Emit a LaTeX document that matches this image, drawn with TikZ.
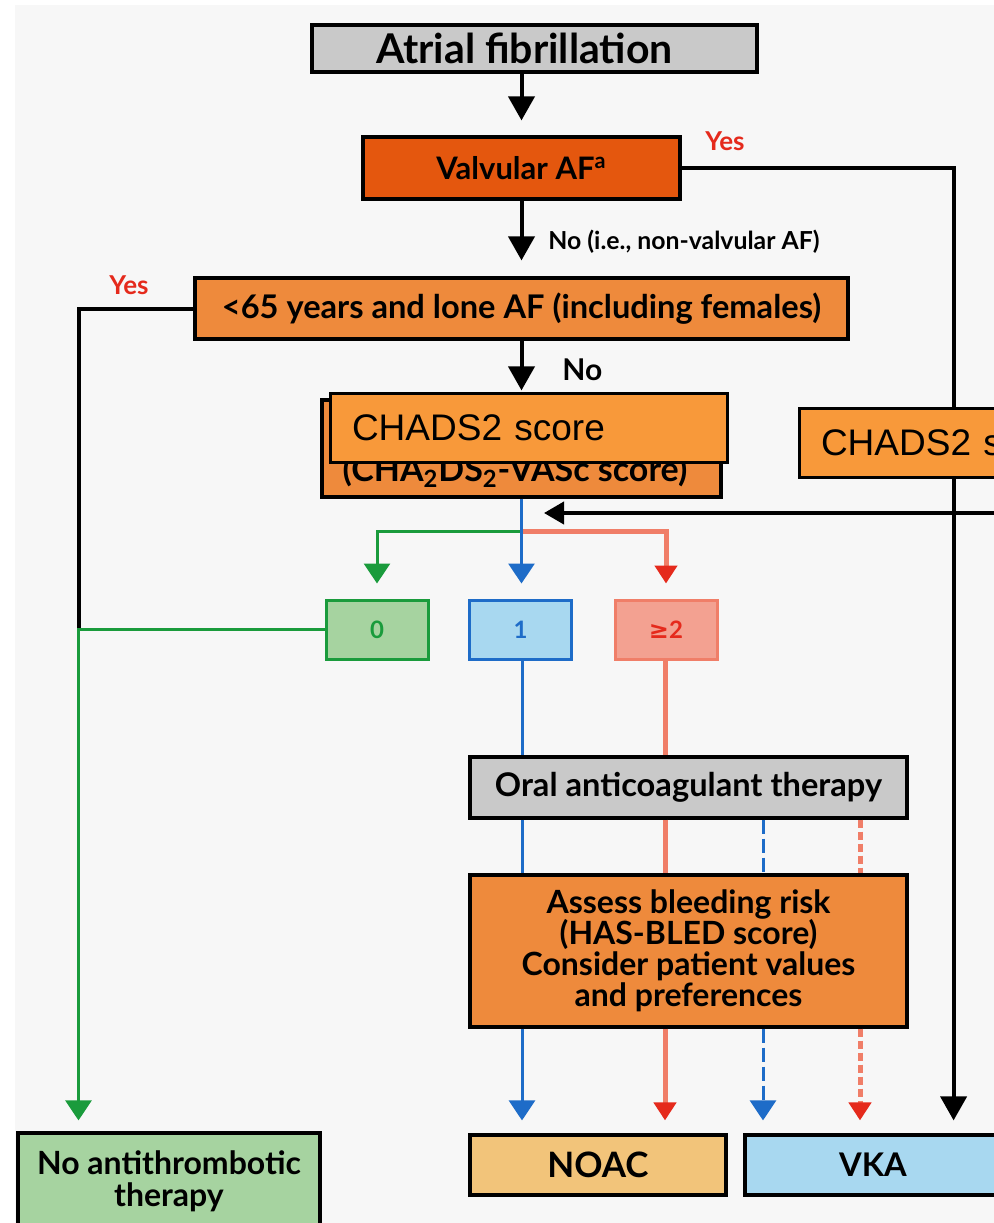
\documentclass[tikz,border=0pt]{standalone}
\usepackage{fontspec}
\setmainfont{Lato}
\newfontfamily\arialfont{Liberation Sans}
\newfontfamily\symfont{DejaVu Sans}
\usetikzlibrary{arrows.meta}

\definecolor{pagebg}{HTML}{F7F7F7}
\definecolor{grayfill}{HTML}{C9C9C9}
\definecolor{valvfill}{HTML}{E4570E}
\definecolor{orangefill}{HTML}{EE8A3C}
\definecolor{patchfill}{HTML}{F8993A}
\definecolor{greenline}{HTML}{1A9B3C}
\definecolor{greenfill}{HTML}{A6D3A0}
\definecolor{blueline}{HTML}{1E6CC8}
\definecolor{bluefill}{HTML}{A8D8F0}
\definecolor{salmonline}{HTML}{F07E68}
\definecolor{salmonfill}{HTML}{F3A191}
\definecolor{redtext}{HTML}{E52A1C}
\definecolor{noacfill}{HTML}{F2C47A}

\begin{document}
\begin{tikzpicture}[
            x=0.5pt, y=-0.5pt,
            every node/.style={inner sep=0pt},
            box/.style={
                rectangle,
                draw=black,
                line width=1.6pt,
                align=center,
                font=\fontsize{16.3}{15}\selectfont\bfseries
            },
            scorebox/.style={
                rectangle,
                line width=1.5pt,
                minimum width=51pt,
                minimum height=29.5pt,
                font=\fontsize{12}{14}\selectfont\bfseries
            },
            patch/.style={
                rectangle,
                draw=black,
                line width=1.5pt,
                fill=patchfill,
                minimum width=198.5pt,
                minimum height=34.5pt,
                text width=176.5pt,
                align=left,
                font=\arialfont\fontsize{18.5}{20}\selectfont
            },
            yes/.style={text=redtext, font=\fontsize{13}{15}\selectfont\bfseries},
            branch/.style={font=\fontsize{12.4}{14}\selectfont\bfseries},
            arrow/.style={-{Triangle[width=13pt,length=12pt]}, line width=2pt},
            blackline/.style={line width=2pt},
            blueflow/.style={blueline, line width=1.5pt},
            redflow/.style={salmonline, line width=2.5pt},
            greenflow/.style={greenline, line width=1.5pt},
            bluetip/.style={-{Triangle[width=13pt,length=10pt]}},
            redtip/.style={-{Triangle[width=11pt,length=9pt,color=redtext]}},
            bluedash/.style={blueflow, dash pattern=on 7pt off 2.5pt},
            reddash/.style={redflow, dash pattern=on 4pt off 2pt}
        ]

        % Page
        \useasboundingbox (0,0) rectangle (994,1223);
        \clip (0,0) rectangle (994,1223);
        \fill[white] (0,0) rectangle (994,1223);
        \fill[pagebg] (15,5) rectangle (994,1223);

        % Nodes
        \node[box, fill=grayfill, minimum width=222.5pt, minimum height=23.5pt,
              font=\fontsize{20.5}{22}\selectfont\bfseries] (af) at (534.5,48.5) {Atrial fibrillation\hspace*{10pt}};
        \node[box, fill=valvfill, minimum width=158.5pt, minimum height=31pt,
              font=\fontsize{15.5}{17}\selectfont\bfseries] (valv) at (521.5,168) {Valvular AF\textsuperscript{a}};
        \node[box, fill=orangefill, minimum width=326.5pt, minimum height=30.5pt] (lone) at (521.5,308.5) {<65 years and lone AF (including females)};
        \node[box, fill=orangefill, minimum width=199.5pt, minimum height=48.5pt] (chads) at (521.5,448.5) {};
        \node[font=\fontsize{17}{19}\selectfont\bfseries] (vasc) at (515,471) {(CHA\textsubscript{2}DS\textsubscript{2}-VASc score)};

        \node[scorebox, draw=greenline, fill=greenfill, text=greenline] (zero) at (377,629.5) {0};
        \node[scorebox, draw=blueline, fill=bluefill, text=blueline] (one) at (520.5,629.5) {1};
        \node[scorebox, draw=salmonline, fill=salmonfill, text=redtext] (two) at (666,629.5) {{\symfont ≥}2};

        \node[box, fill=grayfill, minimum width=218.5pt, minimum height=30.5pt] (oral) at (688.5,787.5) {Oral anticoagulant therapy};
        \node[box, fill=orangefill, minimum width=218.5pt, minimum height=76pt,
              font=\fontsize{16}{15.5}\selectfont\bfseries] (assess) at (688.5,951) {Assess bleeding risk\\(HAS-BLED score)\\Consider patient values\\and preferences};

        \node[box, fill=greenfill, minimum width=151pt, minimum height=48pt,
              font=\fontsize{16}{16}\selectfont\bfseries] (noat) at (169,1181) {No antithrombotic\\therapy};
        \node[box, fill=noacfill, minimum width=128pt, minimum height=30pt,
              font=\fontsize{17.5}{19}\selectfont\bfseries] (noac) at (598,1165) {NOAC};
        \node[box, fill=bluefill, minimum width=128pt, minimum height=30pt] (vka) at (873,1165) {VKA};

        % Labels
        \node[yes] (yesr) at (725,141) {Yes};
        \node[yes] (yesl) at (129,285) {Yes};
        \node[branch, anchor=west] (nonvalv) at (548,242) {No (i.e., non-valvular AF)};
        \node[branch, anchor=west, font=\fontsize{15}{17}\selectfont\bfseries] (nolone) at (562,370) {No};

        % Bends and columns
        \coordinate (split) at (521.5,531);
        \path (zero.west) ++(-246,0) coordinate (gbend);
        \path (valv.east) ++(272,0) coordinate (rbend);
        \coordinate (colB) at (522,0);
        \coordinate (colR) at (665,0);
        \coordinate (colBd) at (763,0);
        \coordinate (colRd) at (860,0);
        \coordinate (chadsin) at (544,513);
        \coordinate (chadsout) at (1000,513);

        % Arrows
        \draw[arrow, shorten >=7.5pt] (af.south -| valv.north) -- (valv.north);
        \draw[arrow, shorten >=8pt] (valv.south) -- (lone.north);
        \draw[arrow, shorten >=4pt] (lone.south) -- (chads.north);
        \draw[arrow, -{Triangle[width=11pt,length=10pt]}] (chadsout) -- (chadsin);

        \draw[arrow] (valv.east) -- (rbend) -- ([yshift=6.5pt]rbend |- vka.north);
        \draw[blackline] (lone.west) -| (gbend);

        % Score branches
        \draw[greenflow, bluetip, shorten >=7.5pt] (split) -| (zero.north);
        \draw[redflow, redtip, shorten >=7.5pt] (split) -| (two.north);
        \draw[blueflow, bluetip, shorten >=7.5pt] (chads.south) -- (chads.south |- one.north);
        \draw[greenflow, bluetip, shorten >=5.5pt] (zero.west) -- (gbend) -- (gbend |- noat.north);

        % Therapy columns
        \draw[blueflow] (colB |- one.south) -- (colB |- oral.north);
        \draw[blueflow] (colB |- oral.south) -- (colB |- assess.north);
        \draw[blueflow, bluetip, shorten >=6.5pt] (colB |- assess.south) -- (colB |- noac.north);
        \draw[redflow] (colR |- two.south) -- (colR |- oral.north);
        \draw[redflow] (colR |- oral.south) -- (colR |- assess.north);
        \draw[redflow, redtip, shorten >=6.5pt] (colR |- assess.south) -- (colR |- noac.north);
        \draw[bluedash] (colBd |- oral.south) -- (colBd |- assess.north);
        \draw[bluedash, bluetip, shorten >=6.5pt] (colBd |- assess.south) -- (colBd |- vka.north);
        \draw[reddash] (colRd |- oral.south) -- (colRd |- assess.north);
        \draw[reddash, redtip, shorten >=6.5pt] (colRd |- assess.south) -- (colRd |- vka.north);

        % Patches on top
        \node[patch] (patchl) at (528.5,427.5) {CHADS2 score};
        \node[patch] (patchr) at (997.5,443) {CHADS2 score};

        \end{tikzpicture}
\end{document}
